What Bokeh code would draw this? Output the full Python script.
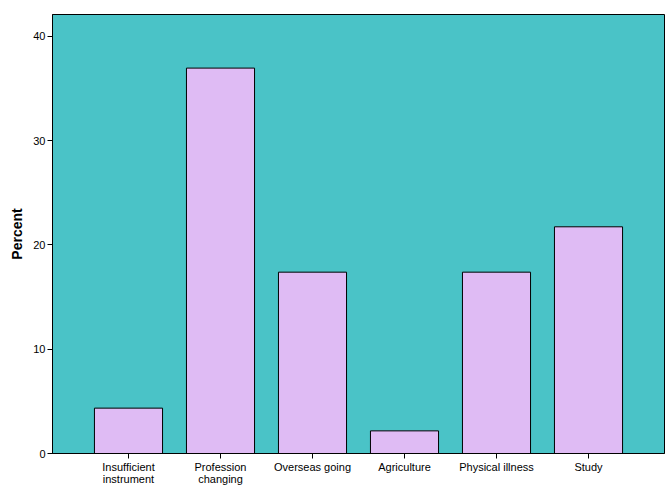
from bokeh.plotting import figure
from bokeh.models import Range1d, FixedTicker
from bokeh.embed import file_html
from bokeh.resources import INLINE

categories = ["Insufficient\ninstrument", "Profession\nchanging", "Overseas going",
              "Agriculture", "Physical illness", "Study"]
percent = [4.35, 36.96, 17.39, 2.17, 17.39, 21.74]
y_ticks = [0, 10, 20, 30, 40]

xs = list(range(len(categories)))

p = figure(width=668, height=492, output_backend="svg", toolbar_location=None,
           x_range=Range1d(-0.826, len(categories) - 1 + 0.826),
           y_range=Range1d(0, 42.1),
           min_border_left=52, min_border_top=14, min_border_right=4, min_border_bottom=39)
p.background_fill_color = "#4AC3C7"
p.border_fill_color = "white"
p.outline_line_color = "black"
p.outline_line_width = 1
p.xgrid.visible = False
p.ygrid.visible = False

p.vbar(x=xs, top=percent, width=0.74, fill_color="#DFBBF4", line_color="black", line_width=1)

p.yaxis.ticker = FixedTicker(ticks=y_ticks)
p.xaxis.ticker = FixedTicker(ticks=xs)
p.xaxis.major_label_overrides = {i: c for i, c in enumerate(categories)}
p.yaxis.axis_label = "Percent"
for ax in (p.xaxis, p.yaxis):
    ax.minor_tick_line_color = None
    ax.major_tick_in = 0
    ax.major_tick_out = 5
    ax.major_tick_line_color = "black"
    ax.axis_line_color = "black"
    ax.major_label_text_font = "Liberation Sans"
    ax.major_label_text_font_size = "11px"
    ax.major_label_text_color = "black"
    ax.major_label_standoff = 2
p.yaxis.axis_label_text_font = "Liberation Sans"
p.yaxis.axis_label_text_font_size = "14px"
p.yaxis.axis_label_text_font_style = "bold"
p.yaxis.axis_label_text_color = "black"
p.yaxis.axis_label_standoff = 5
p.xaxis.major_label_text_line_height = 1.0

open("out.html", "w").write(file_html(p, INLINE))
